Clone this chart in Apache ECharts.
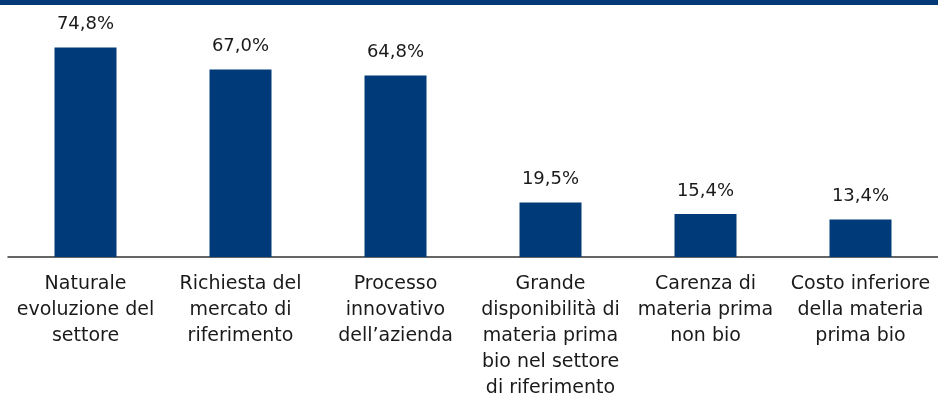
<!DOCTYPE html>
<html>
<head>
<meta charset="utf-8">
<script src="https://cdn.jsdelivr.net/npm/echarts@6/dist/echarts.min.js"></script>
<style>
  html, body { margin: 0; padding: 0; background: #fff; }
  #chart { width: 938px; height: 401px; }
</style>
</head>
<body>
<div id="chart"></div>
<script>
// Motivazioni per la scelta della produzione bio (% risposte)
const categories = [
  'Naturale\nevoluzione del\nsettore',
  'Richiesta del\nmercato di\nriferimento',
  'Processo\ninnovativo\ndell’azienda',
  'Grande\ndisponibilità di\nmateria prima\nbio nel settore\ndi riferimento',
  'Carenza di\nmateria prima\nnon bio',
  'Costo inferiore\ndella materia\nprima bio'
];
const values = [74.8, 67.0, 64.8, 19.5, 15.4, 13.4];

const navy = '#003a78';
const chart = echarts.init(document.getElementById('chart'));

chart.setOption({
  animation: false,
  textStyle: { fontFamily: 'DejaVu Sans' },
  graphic: [{
    type: 'rect',
    shape: { x: 0, y: 0, width: 938, height: 5 },
    style: { fill: navy }
  }],
  grid: { left: 8, right: 0, top: 33, bottom: 140, containLabel: false },
  xAxis: {
    type: 'category',
    data: categories,
    axisLine: { lineStyle: { color: '#333', width: 1.5 } },
    axisTick: { show: false },
    axisLabel: {
      interval: 0,
      margin: 14,
      fontSize: 19,
      lineHeight: 26,
      color: '#1a1a1a',
      fontFamily: 'DejaVu Sans'
    }
  },
  yAxis: {
    type: 'value',
    min: 0,
    max: 80,
    show: false,
    splitLine: { show: false }
  },
  series: [{
    type: 'bar',
    data: values,
    barWidth: '40%',
    itemStyle: { color: navy },
    label: {
      show: true,
      position: 'top',
      distance: 14,
      fontSize: 18,
      color: '#1a1a1a',
      fontFamily: 'DejaVu Sans',
      formatter: p => p.value.toFixed(1).replace('.', ',') + '%'
    }
  }]
});
</script>
</body>
</html>
